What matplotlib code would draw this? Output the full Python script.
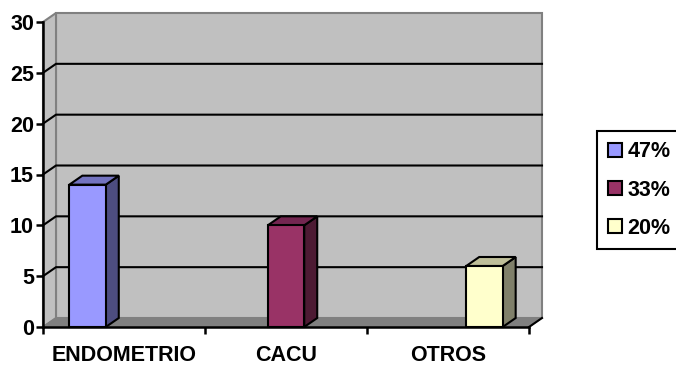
import matplotlib
matplotlib.use("Agg")
import matplotlib.pyplot as plt
from matplotlib.patches import Polygon, Rectangle, Patch

# ── data ─────────────────────────────────────────────────────────────
categories = ["ENDOMETRIO", "CACU", "OTROS"]
values = [14, 10, 6]
legend_labels = ["47%", "33%", "20%"]
front_colors = ["#9999FF", "#993366", "#FFFFCC"]
side_colors = ["#4D4D80", "#4D1A33", "#80806A"]
top_colors = ["#7373BF", "#732650", "#BFBF99"]
yticks = [0, 5, 10, 15, 20, 25, 30]

plt.rcParams["font.family"] = ["Liberation Sans", "DejaVu Sans"]
plt.rcParams["font.weight"] = "bold"
FS = 15.5

fig = plt.figure(figsize=(6.76, 3.66), dpi=100)
ax = fig.add_axes([43 / 676, 1 - 327 / 366, 486 / 676, 305 / 366])
ax.set_xlim(0, 3)
ax.set_ylim(0, 30)

# 3D depth offset (data units)
dx = 13 / 162
dy = 9 / 10.17
ymax = 30
n = len(categories)

# walls + floor
back = Polygon([(dx, dy), (n + dx, dy), (n + dx, ymax + dy), (dx, ymax + dy)],
               closed=True, facecolor="#C0C0C0", edgecolor="#808080", lw=1.5,
               clip_on=False, zorder=1)
side = Polygon([(0, 0), (dx, dy), (dx, ymax + dy), (0, ymax)],
               closed=True, facecolor="#C0C0C0", edgecolor="#808080", lw=1.5,
               clip_on=False, zorder=1)
floor = Polygon([(0, 0), (n, 0), (n + dx, dy), (dx, dy)],
                closed=True, facecolor="#808080", edgecolor="#808080", lw=1,
                clip_on=False, zorder=1)
for p in (back, side, floor):
    ax.add_patch(p)
ax.plot([n, n + dx], [0, dy], color="black", lw=1.5, clip_on=False, zorder=2)

# gridlines on walls
for v in yticks[1:-1]:
    ax.plot([0, dx, n + dx], [v, v + dy, v + dy], color="black", lw=1.5,
            clip_on=False, zorder=2)

# bars (one series per category, clustered)
w = 0.225
for i, (v, fc, sc, tc) in enumerate(zip(values, front_colors, side_colors, top_colors)):
    x0 = i + 0.5 + (i - 1) * w - w / 2
    ax.add_patch(Polygon([(x0 + w, 0), (x0 + w + dx, dy), (x0 + w + dx, v + dy), (x0 + w, v)],
                         closed=True, facecolor=sc, edgecolor="black", lw=1.5,
                         clip_on=False, zorder=3))
    ax.add_patch(Polygon([(x0, v), (x0 + w, v), (x0 + w + dx, v + dy), (x0 + dx, v + dy)],
                         closed=True, facecolor=tc, edgecolor="black", lw=1.5,
                         clip_on=False, zorder=3))
    ax.add_patch(Rectangle((x0, 0), w, v, facecolor=fc, edgecolor="black",
                           lw=1.5, clip_on=False, zorder=4))

# axes styling
for s in ("top", "right"):
    ax.spines[s].set_visible(False)
for s in ("left", "bottom"):
    ax.spines[s].set_linewidth(1.8)
    ax.spines[s].set_zorder(5)
ax.set_facecolor("none")
ax.set_yticks(yticks)
ax.set_yticklabels([str(t) for t in yticks], fontsize=FS, fontweight="bold")
ax.set_xticks(range(n + 1))
ax.set_xticklabels([])
ax.set_xticks([i + 0.5 for i in range(n)], minor=True)
ax.set_xticklabels(categories, minor=True, fontsize=FS, fontweight="bold")
ax.tick_params(axis="y", direction="out", length=5, width=1.8, pad=1.5)
ax.tick_params(axis="x", which="major", direction="out", length=5, width=1.8)
ax.tick_params(axis="x", which="minor", length=0, pad=13)

handles = [Patch(facecolor=c, edgecolor="black", lw=1.5) for c in front_colors]
leg = fig.legend(handles, legend_labels, loc="center left",
                 bbox_to_anchor=(597 / 676, 1 - 190 / 366),
                 prop={"size": FS, "weight": "bold"},
                 fancybox=False, edgecolor="black", framealpha=1,
                 handlelength=0.65, handleheight=0.65, handletextpad=0.25,
                 labelspacing=0.8, borderpad=0.5, borderaxespad=0)
leg.get_frame().set_linewidth(1.5)

fig.savefig("out.png", dpi=100)
